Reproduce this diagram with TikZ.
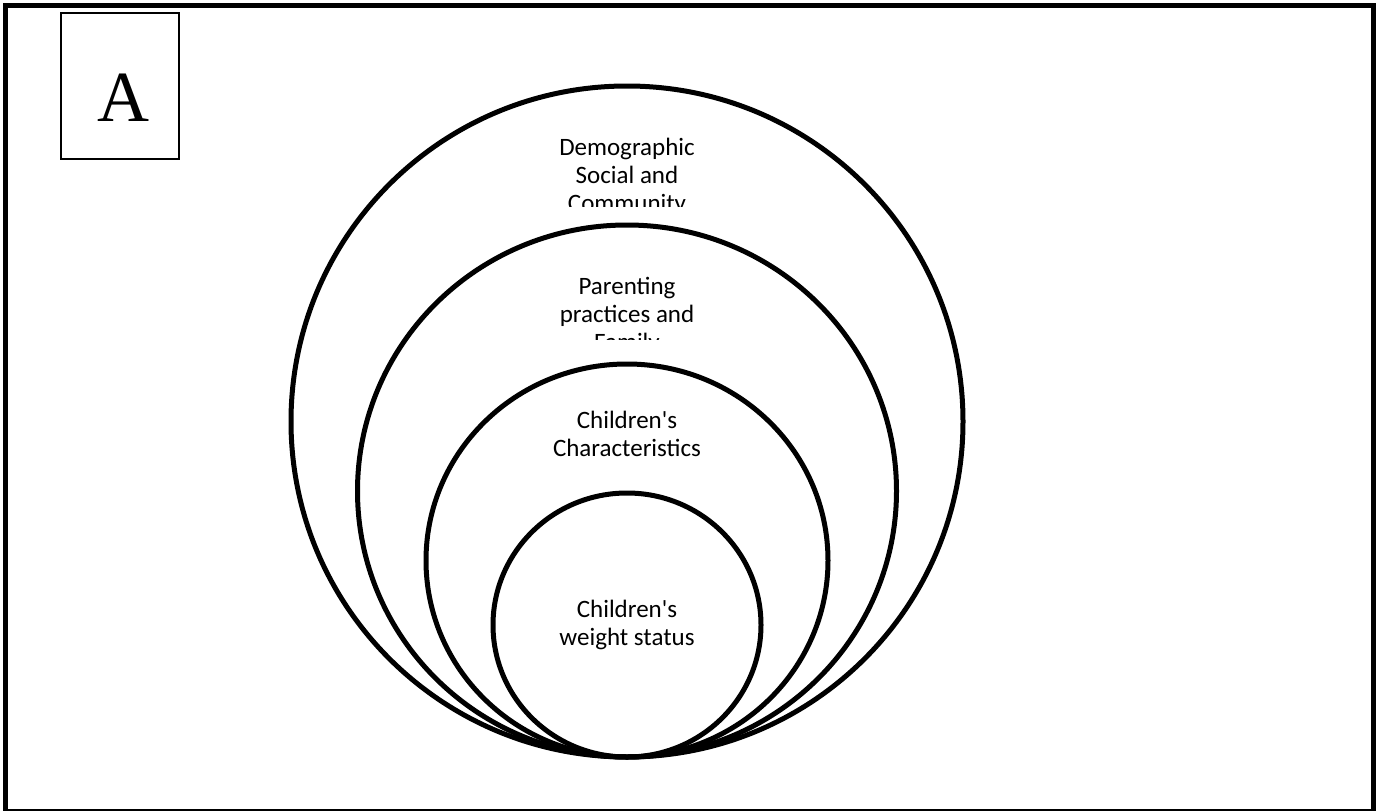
\documentclass[tikz,border=0pt]{standalone}
\usepackage{fontspec}
\newfontfamily\labelfont{Carlito}
\newfontfamily\tagfont{Liberation Serif}
\begin{document}
\begin{tikzpicture}[x=1pt,y=-1pt,
  frame/.style={line width=5pt},
  ring/.style={line width=5pt},
  tagbox/.style={draw,line width=1.3pt},
  lbl/.style={anchor=base,inner sep=0pt,font=\labelfont\fontsize{25}{28}\selectfont},
  tagtext/.style={anchor=base,inner sep=0pt,font=\tagfont\fontsize{72}{80}\selectfont}]
\useasboundingbox (0,0) rectangle (1382,811);
\clip (0,0) rectangle (1382,811);
% outer frame
\draw[frame] (5.8,5.8) rectangle (1373.3,811);
% panel tag
\draw[tagbox] (61,13) rectangle (179,159);
\node[tagtext] (tag) at (123,121) {A};
% nested rings, all touching at the bottom
\coordinate (c1) at (627,421.5);
\coordinate (c2) at (627,491);
\coordinate (c3) at (627,560.5);
\coordinate (c4) at (627,625);
\draw[ring] (c1) ellipse [x radius=336, y radius=335.5];
\draw[ring] (c2) ellipse [x radius=269.5, y radius=266];
\draw[ring] (c3) ellipse [x radius=201, y radius=196.5];
\draw[ring] (c4) ellipse [x radius=134, y radius=132];
% ring labels (the outer two are cut off by their text frames)
\begin{scope}
  \clip (500,120) rectangle (760,206.5);
  \node[lbl] (d1) at (627,155) {Demographic};
  \node[lbl] (d2) at (627,183) {Social and};
  \node[lbl] (d3) at (627,211) {Community};
\end{scope}
\begin{scope}
  \clip (500,260) rectangle (760,339.5);
  \node[lbl] (p1) at (627,294) {Parenting};
  \node[lbl] (p2) at (627,322) {practices and};
  \node[lbl] (p3) at (627,350) {Family};
\end{scope}
\node[lbl] (k1) at (627,428) {Children's};
\node[lbl] (k2) at (627,456) {Characteristics};
\node[lbl] (w1) at (627,617.5) {Children's};
\node[lbl] (w2) at (627,645) {weight status};
\end{tikzpicture}
\end{document}
